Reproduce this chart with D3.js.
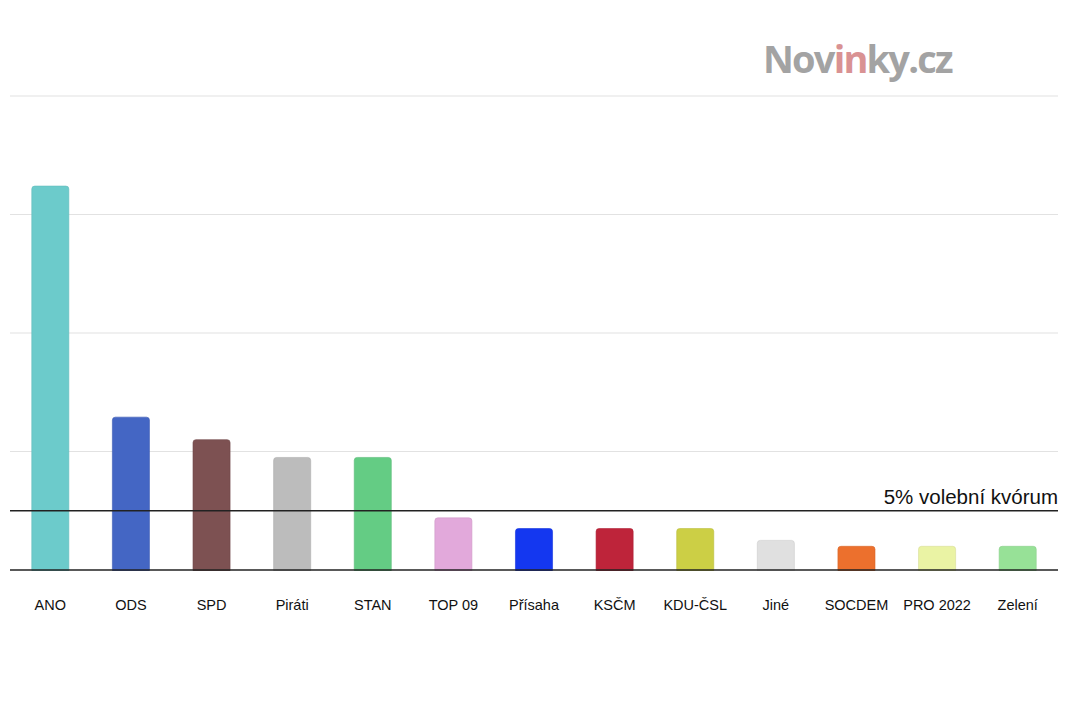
<!DOCTYPE html>
<html>
<head>
<meta charset="utf-8">
<script src="https://cdn.jsdelivr.net/npm/d3@7"></script>
<style>
  html, body { margin: 0; padding: 0; background: #fff; }
</style>
</head>
<body>
<div id="chart"></div>
<script>
// Volební průzkum – podpora stran v %
const parties = ['ANO', 'ODS', 'SPD', 'Piráti', 'STAN', 'TOP 09', 'Přísaha', 'KSČM', 'KDU-ČSL', 'Jiné', 'SOCDEM', 'PRO 2022', 'Zelení'];
const support = [32.4, 12.9, 11.0, 9.5, 9.5, 4.4, 3.5, 3.5, 3.5, 2.5, 2.0, 2.0, 2.0];
const partyColors = ['#6ccbcb', '#4466c4', '#7d5152', '#bcbcbc', '#64cc84', '#e2a9db', '#1437f0', '#be243a', '#cccf45', '#e0e0e0', '#ec702d', '#eaf3a4', '#97e197'];
const gridValues = [10, 20, 30, 40];
const quorum = 5;
const quorumLabel = '5% volební kvórum';

const W = 1080, H = 720;
const margin = { top: 96, right: 22, bottom: 150, left: 10 };
const width = W - margin.left - margin.right;
const height = H - margin.top - margin.bottom;

const svg = d3.select('#chart').append('svg')
  .attr('width', W).attr('height', H)
  .style('font-family', '"Liberation Sans", Arial, Helvetica, sans-serif');

// logo watermark
const logo = svg.append('text')
  .attr('x', 763).attr('y', 73)
  .style('font-family', '"Open Sans", "DejaVu Sans", sans-serif')
  .style('font-weight', '700')
  .style('font-size', '38px')
  .style('letter-spacing', '-0.5px')
  .attr('textLength', 190);
logo.append('tspan').attr('fill', '#a3a3a3').text('Nov');
logo.append('tspan').attr('fill', '#d99293').text('in');
logo.append('tspan').attr('fill', '#a3a3a3').text('ky.cz');

const g = svg.append('g').attr('transform', `translate(${margin.left},${margin.top})`);

const x = d3.scaleBand().domain(parties).range([0, width]).paddingInner(0.54).paddingOuter(0.27);
const y = d3.scaleLinear().domain([0, 40]).range([height, 0]);

// gridlines
g.append('g')
  .selectAll('line').data(gridValues).join('line')
  .attr('x1', 0).attr('x2', width)
  .attr('y1', d => y(d)).attr('y2', d => y(d))
  .attr('stroke', '#e2e2e2').attr('stroke-width', 1.2);

// bars
g.append('g')
  .selectAll('rect').data(parties).join('rect')
  .attr('x', d => x(d))
  .attr('y', (d, i) => y(support[i]))
  .attr('width', x.bandwidth())
  .attr('height', (d, i) => y(0) - y(support[i]) + 3)
  .attr('rx', 3).attr('ry', 3)
  .attr('fill', (d, i) => partyColors[i])
  .attr('stroke', (d, i) => d3.color(partyColors[i]).darker(0.25))
  .attr('stroke-width', 0.6);

// cover overhang of rounded bottom
g.append('rect')
  .attr('x', -2).attr('y', y(0) + 1)
  .attr('width', width + 4).attr('height', 4)
  .attr('fill', '#fff');

// quorum line
g.append('line')
  .attr('x1', 0).attr('x2', width)
  .attr('y1', y(quorum)).attr('y2', y(quorum))
  .attr('stroke', '#222').attr('stroke-width', 1.4);

g.append('text')
  .attr('x', width).attr('y', y(quorum) - 7)
  .attr('text-anchor', 'end')
  .style('font-size', '20.5px')
  .attr('fill', '#111')
  .text(quorumLabel);

// baseline
g.append('line')
  .attr('x1', 0).attr('x2', width)
  .attr('y1', y(0)).attr('y2', y(0))
  .attr('stroke', '#222').attr('stroke-width', 1.4);

// category axis labels
const xAxis = g.append('g')
  .attr('transform', `translate(0,${height})`)
  .call(d3.axisBottom(x).tickSize(0).tickPadding(30));
xAxis.select('.domain').remove();
xAxis.selectAll('text')
  .style('font-size', '14.5px')
  .style('font-family', '"Liberation Sans", Arial, Helvetica, sans-serif')
  .attr('fill', '#111');
</script>
</body>
</html>
